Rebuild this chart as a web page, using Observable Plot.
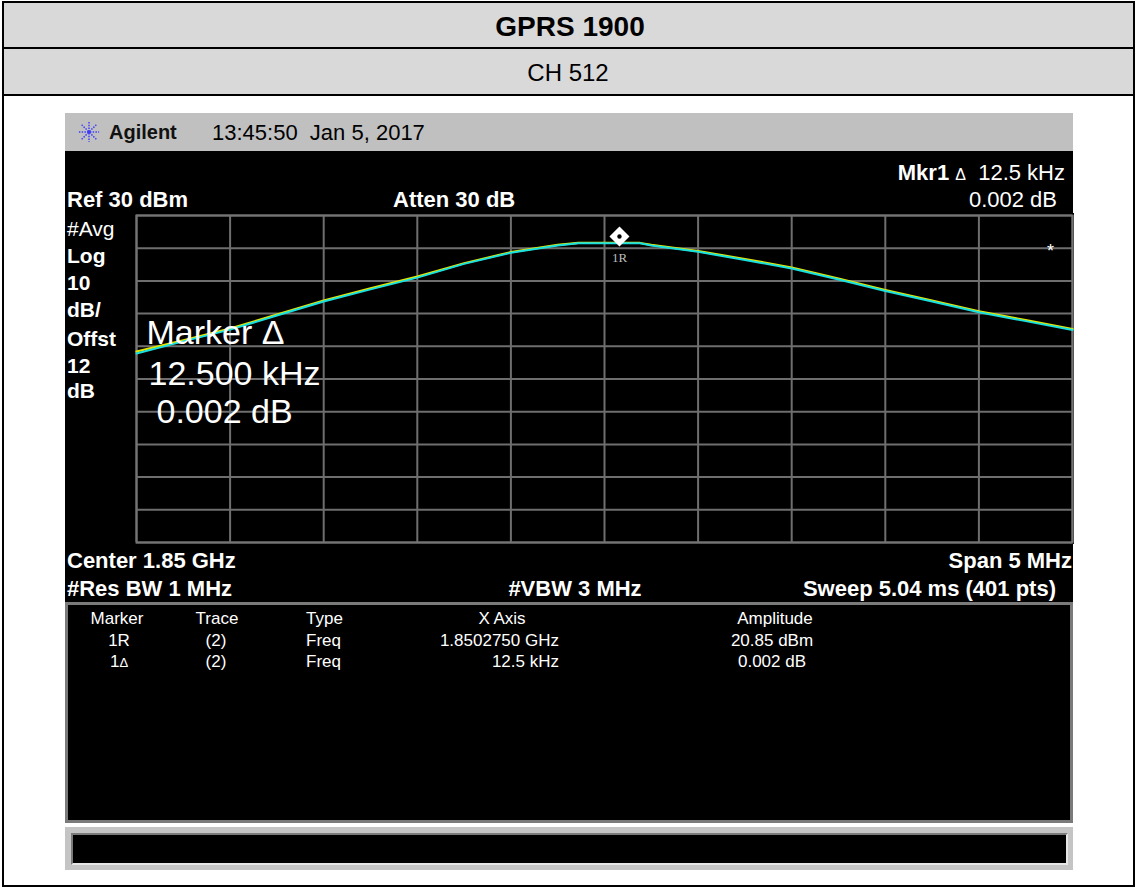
<!DOCTYPE html>
<html>
<head>
<meta charset="utf-8">
<script src="https://cdn.jsdelivr.net/npm/d3@7"></script>
<script src="https://cdn.jsdelivr.net/npm/@observablehq/plot@0.6"></script>
<style>
  html, body { margin: 0; padding: 0; background: #fff; }
  #page { position: relative; width: 1137px; height: 888px; overflow: hidden; background: #fff;
          font-family: "Liberation Sans", Arial, Helvetica, sans-serif; }
  .abs { position: absolute; white-space: pre; }
</style>
</head>
<body>
<div id="page"></div>
<script>
// ---------- data ----------
const title = "GPRS 1900";
const subtitle = "CH 512";
const timestamp = "13:45:50  Jan 5, 2017";

// x axis: frequency (MHz), 10 divisions over 5 MHz span centred on 1850 MHz
const xTicksMHz = [1847.5, 1848, 1848.5, 1849, 1849.5, 1850, 1850.5, 1851, 1851.5, 1852, 1852.5];
// y axis: Ref 30 dBm, 10 dB/div
const yTicksDbm = [30, 20, 10, 0, -10, -20, -30, -40, -50, -60, -70];

// trace frequency points (MHz)
const traceFreqMHz = [1847.5, 1847.75, 1848, 1848.25, 1848.5, 1848.75, 1849, 1849.25, 1849.5, 1849.75,
                      1849.86, 1850, 1850.19, 1850.25, 1850.5, 1850.75, 1851, 1851.25, 1851.5, 1851.75,
                      1852, 1852.25, 1852.5];
// trace 1 (yellow) levels, dBm
const trace1Dbm = [-11.6, -8.2, -4.6, -0.3, 4.0, 7.7, 11.3, 15.4, 18.8, 21.0,
                   21.6, 21.6, 21.6, 21.0, 19.1, 16.7, 14.1, 10.7, 7.2, 4.0,
                   0.7, -2.0, -4.7];
// trace 2 (cyan) levels, dBm
const trace2Dbm = [-12.2, -8.5, -4.9, -0.6, 3.7, 7.4, 11.0, 15.2, 18.6, 20.8,
                   21.5, 21.5, 21.5, 20.8, 18.9, 16.4, 13.8, 10.4, 6.9, 3.7,
                   0.4, -2.3, -5.0];

// marker glyph position and its label
const markerFreqMHz = [1850.08];
const markerLevelDbm = [23.6];
const markerLabelLevelDbm = [17.2];
const markerLabel = ["1R"];

// overlay marker readout
const overlayLines = ["Marker Δ", "12.500 kHz", "0.002 dB"];

// header / footer annotations
const leftLabels = ["#Avg", "Log", "10", "dB/", "Offst", "12", "dB"];
const leftLabelBold = [false, true, true, true, true, true, true];

// marker table
const tableHeader = ["Marker", "Trace", "Type", "X Axis", "Amplitude"];
const tableMarker = ["1R", "1Δ"];
const tableTrace = ["(2)", "(2)"];
const tableType = ["Freq", "Freq"];
const tableXAxis = ["1.8502750 GHz", "12.5 kHz"];
const tableAmplitude = ["20.85 dBm", "0.002 dB"];

// ---------- helpers ----------
const page = document.getElementById("page");
function box(left, top, width, height, style) {
  const d = document.createElement("div");
  d.className = "abs";
  Object.assign(d.style, {left: left + "px", top: top + "px", width: width + "px", height: height + "px"}, style || {});
  page.appendChild(d);
  return d;
}
// text centred vertically on cy; align: left (x = left edge), right (x = right edge), center
function txt(html, x, cy, opts) {
  const o = Object.assign({size: 22, bold: false, color: "#fff", align: "left", family: null}, opts || {});
  const h = 40, w = 600;
  let left = x;
  if (o.align === "right") left = x - w;
  if (o.align === "center") left = x - w / 2;
  const d = box(left, cy - h / 2, w, h, {
    lineHeight: h + "px", fontSize: o.size + "px", fontWeight: o.bold ? "bold" : "normal",
    color: o.color, textAlign: o.align
  });
  if (o.family) d.style.fontFamily = o.family;
  d.innerHTML = html;
  return d;
}

// ---------- page frame and title table ----------
box(4, 3, 1129, 44, {background: "#d9d9d9"});
box(4, 49, 1129, 45, {background: "#d9d9d9"});
box(2, 1, 1133, 886, {border: "2px solid #000", boxSizing: "border-box"});
box(2, 47, 1133, 2, {background: "#000"});
box(2, 94, 1133, 2, {background: "#000"});
txt(title, 570, 27, {size: 28, bold: true, color: "#000", align: "center"});
txt(subtitle, 568, 73, {size: 24, color: "#000", align: "center"});

// ---------- analyzer screen ----------
box(65, 113, 1008, 38, {background: "#c0c0c0"});
box(65, 151, 1008, 671, {background: "#000"});

// Agilent logo (starburst)
const logo = box(78, 121, 22, 22, {});
logo.innerHTML = `<svg width="22" height="22" viewBox="0 0 24 24">
  <g stroke="#3c3cff" stroke-width="1.6" stroke-dasharray="1.6 1.4" fill="none">
    <line x1="12" y1="1" x2="12" y2="23"/><line x1="1" y1="12" x2="23" y2="12"/>
    <line x1="4" y1="4" x2="20" y2="20"/><line x1="20" y1="4" x2="4" y2="20"/>
  </g><circle cx="12" cy="12" r="2" fill="#3c3cff"/></svg>`;
txt("Agilent", 109, 132, {size: 20, bold: true, color: "#111"});
txt(timestamp, 212, 133, {size: 22, color: "#000"});

txt('<b>Mkr1</b> <span style="font-size:16px">Δ</span>&nbsp; 12.5 kHz', 1065, 173, {size: 22, align: "right"});
txt("0.002 dB", 1057, 200, {size: 22, align: "right"});
txt("Ref 30 dBm", 67, 200, {size: 22, bold: true});
txt("Atten 30 dB", 393, 200, {size: 22, bold: true});

const leftY = [229, 256, 283, 310, 339, 366, 391];
leftLabels.forEach((t, i) => txt(t, 67, leftY[i], {size: 21, bold: leftLabelBold[i]}));

txt("Center 1.85 GHz", 67, 561, {size: 22, bold: true});
txt("Span 5 MHz", 1072, 561, {size: 22, bold: true, align: "right"});
txt("#Res BW 1 MHz", 67, 589, {size: 22, bold: true});
txt("#VBW 3 MHz", 575, 589, {size: 22, bold: true, align: "center"});
txt("Sweep 5.04 ms (401 pts)", 1056, 589, {size: 22, bold: true, align: "right"});

// marker table box
box(65, 602, 1008, 221, {border: "3px solid #7a7a7a", boxSizing: "border-box"});
const rowsY = [619, 641, 662];
const fs = 17;
txt(tableHeader[0], 117, rowsY[0], {size: fs, align: "center"});
txt(tableHeader[1], 217, rowsY[0], {size: fs, align: "center"});
txt(tableHeader[2], 306, rowsY[0], {size: fs});
txt(tableHeader[3], 502, rowsY[0], {size: fs, align: "center"});
txt(tableHeader[4], 775, rowsY[0], {size: fs, align: "center"});
for (let i = 0; i < 2; i++) {
  const m = tableMarker[i].replace("Δ", '<span style="font-size:13px">Δ</span>');
  txt(m, 119, rowsY[i + 1], {size: fs, align: "center"});
  txt(tableTrace[i], 216, rowsY[i + 1], {size: fs, align: "center"});
  txt(tableType[i], 306, rowsY[i + 1], {size: fs});
  txt(tableXAxis[i], 559, rowsY[i + 1], {size: fs, align: "right"});
  txt(tableAmplitude[i], 772, rowsY[i + 1], {size: fs, align: "center"});
}

// bottom status bar
box(65, 827, 1008, 43, {background: "#c4c4c4"});
box(71, 833, 997, 32, {background: "#000", borderTop: "2px solid #7a7a7a", borderLeft: "2px solid #7a7a7a",
                       borderBottom: "2px solid #e6e6e6", borderRight: "2px solid #e6e6e6", boxSizing: "border-box"});

// ---------- the trace display drawn with Plot ----------
const t1 = traceFreqMHz.map((f, i) => ({f, y: trace1Dbm[i]}));
const t2 = traceFreqMHz.map((f, i) => ({f, y: trace2Dbm[i]}));
const mk = markerFreqMHz.map((f, i) => ({f, y: markerLevelDbm[i], ly: markerLabelLevelDbm[i], label: markerLabel[i]}));

const chart = Plot.plot({
  width: 940,
  height: 331,
  marginTop: 2, marginBottom: 2, marginLeft: 2, marginRight: 2,
  x: {domain: [xTicksMHz[0], xTicksMHz[xTicksMHz.length - 1]], axis: null},
  y: {domain: [yTicksDbm[yTicksDbm.length - 1], yTicksDbm[0]], axis: null},
  style: {background: "#000", fontFamily: "'Liberation Sans', Arial, sans-serif", overflow: "visible"},
  marks: [
    Plot.gridX(xTicksMHz, {stroke: "#6e6e6e", strokeOpacity: 1, strokeWidth: 2}),
    Plot.gridY(yTicksDbm, {stroke: "#6e6e6e", strokeOpacity: 1, strokeWidth: 2}),
    Plot.frame({stroke: "#747474", strokeWidth: 2}),
    Plot.line(t1, {x: "f", y: "y", stroke: "#e6e600", strokeWidth: 2.2}),
    Plot.line(t2, {x: "f", y: "y", stroke: "#18e0e0", strokeWidth: 2}),
    Plot.dot(mk, {x: "f", y: "y", symbol: "square", rotate: 45, r: 8, fill: "#fff", stroke: "none"}),
    Plot.dot(mk, {x: "f", y: "y", symbol: "circle", r: 2.2, fill: "#000", stroke: "none"}),
    Plot.text(mk, {x: "f", y: "ly", text: "label", fill: "#bdbdbd", fontSize: 13,
                   fontFamily: "'Liberation Serif', serif"}),
    Plot.text(["*"], {frameAnchor: "top-right", dx: -22, dy: 29, fill: "#fff", fontSize: 18, textAnchor: "middle"}),
    Plot.text([overlayLines[0]], {frameAnchor: "top-left", dx: 10, dy: 118, textAnchor: "start", lineAnchor: "middle",
                   fill: "#fff", fontSize: 34}),
    Plot.text([overlayLines[1]], {frameAnchor: "top-left", dx: 12, dy: 159, textAnchor: "start", lineAnchor: "middle",
                   fill: "#fff", fontSize: 34}),
    Plot.text([overlayLines[2]], {frameAnchor: "top-left", dx: 20, dy: 197, textAnchor: "start", lineAnchor: "middle",
                   fill: "#fff", fontSize: 34})
  ]
});
const holder = box(134, 213, 940, 331, {});
holder.appendChild(chart);
</script>
</body>
</html>
